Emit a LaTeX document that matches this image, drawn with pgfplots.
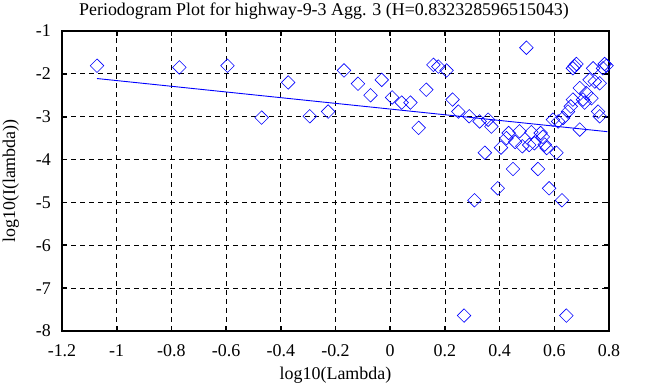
\documentclass[border=0pt]{standalone}
\usepackage{pgfplots}
\pgfplotsset{compat=1.18}
\usepackage{fontspec}
\setmainfont{Liberation Serif}
\definecolor{gblue}{RGB}{0,0,255}
\begin{document}
\fontsize{18}{20}\selectfont
\begin{tikzpicture}
\useasboundingbox (0,0) rectangle (648bp,387bp);
\begin{axis}[
  at={(62bp,56bp)}, anchor=south west,
  scale only axis, width=547bp, height=300bp,
  xmin=-1.2, xmax=0.8, ymin=-8, ymax=-1,
  xtick={-1.2,-1,...,0.8}, ytick={-8,-7,...,-1},
  /pgf/number format/assume math mode=true,
  xticklabel style={font=\fontsize{18}{20}\selectfont, /pgf/number format/fixed, anchor=base, inner sep=0pt, yshift=-25bp},
  yticklabel style={font=\fontsize{18}{20}\selectfont, anchor=east, inner sep=0pt, xshift=-11bp},
  grid=major,
  major grid style={black, line width=0.8bp, dash pattern=on 5bp off 4bp},
  axis line style={black, line width=1.6bp},
  tick align=inside, major tick length=5bp,
  every tick/.style={black, line width=1.6bp},
  every axis title shift=0pt,
  title={Periodogram Plot for highway-9-3 Agg. 3 (H=0.832328596515043)},
  title style={font=\fontsize{18}{20}\selectfont, at={(axis description cs:0.479,1.0533)}, anchor=base, inner sep=0pt},
  xlabel={log10(Lambda)}, ylabel={log10(I(lambda))},
  xlabel style={font=\fontsize{18}{20}\selectfont, at={(axis description cs:0.5,-0.1633)}, anchor=base, inner sep=0pt},
  ylabel style={font=\fontsize{18}{20}\selectfont, at={(axis description cs:-0.0859,0.5)}, anchor=base, rotate=0, inner sep=0pt},
  clip=false,
]
\addplot[gblue, line width=0.9bp, forget plot] coordinates {(-1.072,-2.109) (0.794,-3.349)};
\addplot[only marks, mark=square, mark size=4.8bp, gblue, line width=0.6bp,
  every mark/.append style={rotate=45}] coordinates {
(-1.072,-1.81) (-0.771,-1.85) (-0.595,-1.81) (-0.470,-3.02) (-0.373,-2.20)
(-0.294,-2.99) (-0.227,-2.88) (-0.169,-1.92) (-0.118,-2.23) (-0.072,-2.50)
(-0.031,-2.14) (0.007,-2.55) (0.042,-2.67) (0.074,-2.67) (0.104,-3.26)
(0.132,-2.37) (0.158,-1.79) (0.176,-1.83) (0.206,-1.92) (0.228,-2.60)
(0.249,-2.88) (0.270,-7.64) (0.289,-2.99) (0.308,-4.95) (0.327,-3.11)
(0.346,-3.84) (0.358,-3.07) (0.370,-3.23) (0.393,-4.67) (0.405,-3.72)
(0.425,-3.50) (0.433,-3.38) (0.449,-4.22) (0.457,-3.59) (0.473,-3.34)
(0.483,-3.69) (0.498,-1.39) (0.516,-3.36) (0.508,-3.66) (0.527,-3.62)
(0.540,-4.22) (0.550,-3.38) (0.558,-3.47) (0.565,-3.65) (0.572,-3.73)
(0.581,-4.67) (0.595,-3.07) (0.608,-3.84) (0.614,-3.11) (0.628,-4.95)
(0.632,-3.03) (0.644,-7.64) (0.650,-2.88) (0.660,-2.76) (0.668,-2.60)
(0.668,-1.87) (0.681,-1.77) (0.674,-1.82) (0.693,-2.33) (0.693,-3.30)
(0.705,-2.60) (0.711,-2.67) (0.717,-2.45) (0.729,-2.14) (0.736,-2.57)
(0.742,-1.87) (0.748,-2.18) (0.760,-2.88) (0.766,-2.22) (0.766,-2.99)
(0.778,-1.87) (0.784,-1.77) (0.791,-1.81)
};
\end{axis}
\end{tikzpicture}
\end{document}
